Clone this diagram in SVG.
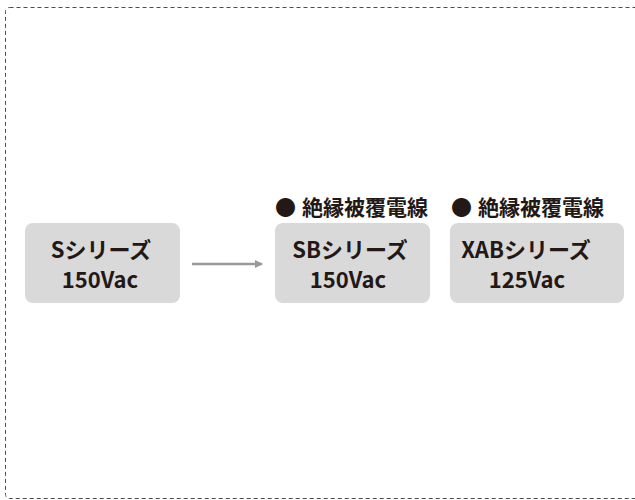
<svg xmlns="http://www.w3.org/2000/svg" width="635" height="500" viewBox="0 0 635 500">
<defs>
<style>
.frame{fill:none;stroke:#4d4d4d;stroke-width:1;stroke-dasharray:4 3}
.box{fill:#d9d9d9}
.t{font-family:"Noto Sans CJK JP","Noto Sans",sans-serif;font-weight:bold;font-size:22px;fill:#231815;text-anchor:middle}
.lab{font-family:"Noto Sans CJK JP",sans-serif;font-weight:bold;font-size:21px;fill:#231815}
.conn{stroke:#999;stroke-width:2.5;fill:none}
</style>
<marker id="ah" markerWidth="8" markerHeight="8" refX="7" refY="4" orient="auto" markerUnits="userSpaceOnUse">
<path d="M0,0 L8,4 L0,8 Z" fill="#999"/>
</marker>
</defs>
<rect class="frame" x="5.5" y="7.5" width="700" height="491" rx="4"/>
<g id="node-s">
<rect class="box" x="25" y="223" width="155" height="80" rx="8"/>
<text class="t" x="101" y="258">Sシリーズ</text>
<text class="t" x="100" y="288">150Vac</text>
</g>
<g id="node-sb">
<text class="lab" x="275" y="215">●</text>
<text class="lab" x="302" y="215">絶縁被覆電線</text>
<rect class="box" x="275" y="223" width="155" height="80" rx="8"/>
<text class="t" x="350" y="258">SBシリーズ</text>
<text class="t" x="348" y="288">150Vac</text>
</g>
<g id="node-xab">
<text class="lab" x="451" y="215">●</text>
<text class="lab" x="478" y="215">絶縁被覆電線</text>
<rect class="box" x="450" y="223" width="174" height="80" rx="8"/>
<text class="t" x="526" y="258">XABシリーズ</text>
<text class="t" x="527" y="288">125Vac</text>
</g>
<g id="connectors">
<line class="conn" x1="192" y1="264" x2="262" y2="264" marker-end="url(#ah)"/>
</g>
</svg>
